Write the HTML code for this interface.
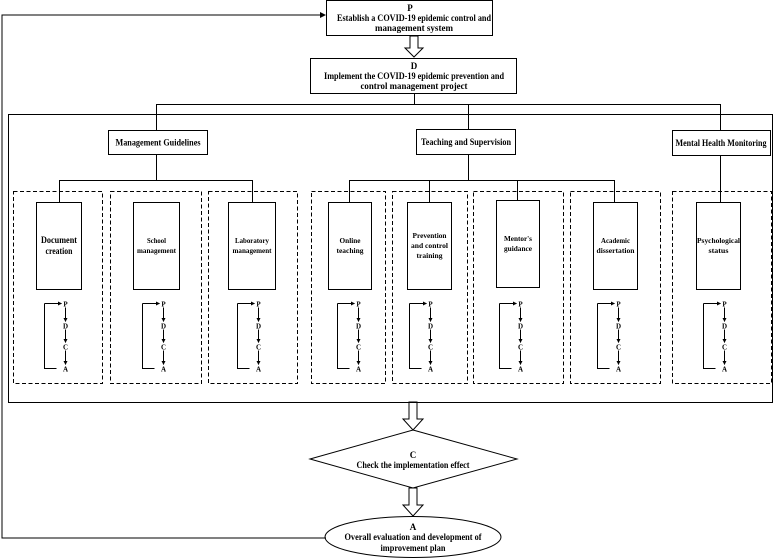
<!DOCTYPE html>
<html><head><meta charset="utf-8"><style>
html,body{margin:0;padding:0;background:#fff;}
svg{display:block;}
text{font-family:"Liberation Serif",serif;font-weight:bold;fill:#000;text-anchor:middle;}
</style></head><body>
<svg width="778" height="558" viewBox="0 0 778 558" xmlns="http://www.w3.org/2000/svg">
<defs>
<marker id="ah" markerWidth="6" markerHeight="6" refX="5" refY="3" orient="auto" markerUnits="userSpaceOnUse"><path d="M0,0 L6,3 L0,6 z" fill="#000"/></marker>
<marker id="sa" markerWidth="4" markerHeight="4" refX="3.5" refY="2" orient="auto" markerUnits="userSpaceOnUse"><path d="M0,0 L4,2 L0,4 z" fill="#000"/></marker>
<g id="pdca">
<path d="M0,0 L0,65 L12,65" fill="none" stroke="#000" stroke-width="1"/>
<path d="M0,0 L17,0" fill="none" stroke="#000" stroke-width="1" marker-end="url(#sa)"/>
<line x1="21" y1="4" x2="21" y2="18" stroke="#000" marker-end="url(#sa)"/>
<line x1="21" y1="26" x2="21" y2="39" stroke="#000" marker-end="url(#sa)"/>
<line x1="21" y1="47" x2="21" y2="61" stroke="#000" marker-end="url(#sa)"/>
<text x="21" y="3" font-size="7">P</text>
<text x="21" y="25" font-size="7">D</text>
<text x="21" y="46" font-size="7">C</text>
<text x="21" y="68" font-size="7">A</text>
</g>
</defs>
<g fill="none" stroke="#000" stroke-width="1">
<polyline points="326,538 2,538 2,15 320,15" />
<line x1="300" y1="15" x2="325" y2="15" marker-end="url(#ah)"/>
<rect x="326.5" y="0.5" width="166" height="35"/>
<rect x="310.5" y="58.5" width="206" height="35"/>
<path d="M410,36 L418,36 L418,48 L423,48 L414,57 L405,48 L410,48 Z"/>
<path d="M409,402 L417,402 L417,419 L423,419 L413,430 L403,419 L409,419 Z"/>
<path d="M409,488 L417,488 L417,505 L423,505 L413,516 L403,505 L409,505 Z"/>
<line x1="414.5" y1="93" x2="414.5" y2="104.5"/>
<line x1="156" y1="104.5" x2="720.5" y2="104.5"/>
<line x1="156.5" y1="104" x2="156.5" y2="130"/>
<line x1="468.5" y1="104" x2="468.5" y2="129"/>
<line x1="720.5" y1="104" x2="720.5" y2="130"/>
<rect x="8.5" y="114.5" width="764" height="288"/>
<rect x="108.5" y="130.5" width="99" height="24"/>
<rect x="416.5" y="129.5" width="99" height="25"/>
<rect x="672.5" y="130.5" width="98" height="25"/>
<line x1="156.5" y1="154" x2="156.5" y2="180.5"/>
<line x1="59" y1="180.5" x2="253" y2="180.5"/>
<line x1="59.5" y1="180" x2="59.5" y2="202"/>
<line x1="252.5" y1="180" x2="252.5" y2="202"/>
<line x1="468.5" y1="154" x2="468.5" y2="180.5"/>
<line x1="349" y1="180.5" x2="615" y2="180.5"/>
<line x1="349.5" y1="180" x2="349.5" y2="202"/>
<line x1="429.5" y1="180" x2="429.5" y2="202"/>
<line x1="517.5" y1="180" x2="517.5" y2="200"/>
<line x1="614.5" y1="180" x2="614.5" y2="202"/>
<line x1="720.5" y1="155" x2="720.5" y2="202"/>
<g stroke-dasharray="4,2.5">
<rect x="13.5" y="191.5" width="89" height="192"/>
<rect x="110.5" y="191.5" width="91" height="192"/>
<rect x="208.5" y="191.5" width="89" height="192"/>
<rect x="311.5" y="191.5" width="74" height="192"/>
<rect x="392.5" y="191.5" width="75" height="192"/>
<rect x="473.5" y="191.5" width="90" height="192"/>
<rect x="570.5" y="191.5" width="90" height="192"/>
<rect x="672.5" y="191.5" width="99" height="192"/>
</g>
<rect x="36.5" y="202.5" width="45" height="87"/>
<rect x="133.5" y="202.5" width="46" height="87"/>
<rect x="228.5" y="202.5" width="47" height="87"/>
<rect x="328.5" y="202.5" width="43" height="87"/>
<rect x="407.5" y="202.5" width="44" height="87"/>
<rect x="496.5" y="200.5" width="43" height="87"/>
<rect x="593.5" y="202.5" width="44" height="87"/>
<rect x="696.5" y="202.5" width="44" height="87"/>
<polygon points="413,430 517,459 413,488 310,459"/>
<ellipse cx="413" cy="537" rx="88" ry="20.5"/>
</g>
<use href="#pdca" x="44.5" y="303.5"/>
<use href="#pdca" x="142.5" y="303.5"/>
<use href="#pdca" x="237.5" y="303.5"/>
<use href="#pdca" x="337.5" y="303.5"/>
<use href="#pdca" x="409.5" y="303.5"/>
<use href="#pdca" x="499.5" y="303.5"/>
<use href="#pdca" x="597.5" y="303.5"/>
<use href="#pdca" x="703.5" y="303.5"/>
<g lengthAdjust="spacingAndGlyphs">
<text x="410" y="11" font-size="9">P</text>
<text x="414" y="21" font-size="9" textLength="154" lengthAdjust="spacingAndGlyphs">Establish a COVID-19 epidemic control and</text>
<text x="414" y="31" font-size="9" textLength="78" lengthAdjust="spacingAndGlyphs">management system</text>
<text x="414" y="69" font-size="9">D</text>
<text x="414" y="79" font-size="9" textLength="180" lengthAdjust="spacingAndGlyphs">Implement the COVID-19 epidemic prevention and</text>
<text x="414" y="89" font-size="9" textLength="107" lengthAdjust="spacingAndGlyphs">control management project</text>
<text x="158" y="145.5" font-size="9" textLength="85" lengthAdjust="spacingAndGlyphs">Management Guidelines</text>
<text x="466" y="145" font-size="9" textLength="90" lengthAdjust="spacingAndGlyphs">Teaching and Supervision</text>
<text x="721" y="146" font-size="9" textLength="91" lengthAdjust="spacingAndGlyphs">Mental Health Monitoring</text>
<text x="59" y="243" font-size="9.5" textLength="36" lengthAdjust="spacingAndGlyphs">Document</text>
<text x="59" y="254" font-size="9.5" textLength="27" lengthAdjust="spacingAndGlyphs">creation</text>
<text x="156.5" y="243" font-size="7.5" textLength="19" lengthAdjust="spacingAndGlyphs">School</text>
<text x="156.5" y="253" font-size="7.5" textLength="39" lengthAdjust="spacingAndGlyphs">management</text>
<text x="252" y="243" font-size="7.5" textLength="34" lengthAdjust="spacingAndGlyphs">Laboratory</text>
<text x="252" y="253" font-size="7.5" textLength="39" lengthAdjust="spacingAndGlyphs">management</text>
<text x="350" y="243" font-size="7.5" textLength="21" lengthAdjust="spacingAndGlyphs">Online</text>
<text x="350" y="253" font-size="7.5" textLength="27" lengthAdjust="spacingAndGlyphs">teaching</text>
<text x="429.5" y="238" font-size="7.5" textLength="34" lengthAdjust="spacingAndGlyphs">Prevention</text>
<text x="429.5" y="248" font-size="7.5" textLength="37" lengthAdjust="spacingAndGlyphs">and control</text>
<text x="429.5" y="258" font-size="7.5" textLength="26" lengthAdjust="spacingAndGlyphs">training</text>
<text x="518" y="241" font-size="7.5" textLength="28" lengthAdjust="spacingAndGlyphs">Mentor's</text>
<text x="518" y="251" font-size="7.5" textLength="28" lengthAdjust="spacingAndGlyphs">guidance</text>
<text x="615.5" y="243" font-size="7.5" textLength="29" lengthAdjust="spacingAndGlyphs">Academic</text>
<text x="615.5" y="253" font-size="7.5" textLength="38" lengthAdjust="spacingAndGlyphs">dissertation</text>
<text x="718.5" y="243" font-size="7.5" textLength="43" lengthAdjust="spacingAndGlyphs">Psychological</text>
<text x="718.5" y="253" font-size="7.5" textLength="20" lengthAdjust="spacingAndGlyphs">status</text>
<text x="413" y="458" font-size="9">C</text>
<text x="413" y="468" font-size="9" textLength="113" lengthAdjust="spacingAndGlyphs">Check the implementation effect</text>
<text x="413" y="530" font-size="9">A</text>
<text x="413" y="540" font-size="9" textLength="137" lengthAdjust="spacingAndGlyphs">Overall evaluation and development of</text>
<text x="413" y="551" font-size="9" textLength="65" lengthAdjust="spacingAndGlyphs">improvement plan</text>
</g>
</svg>
</body></html>
